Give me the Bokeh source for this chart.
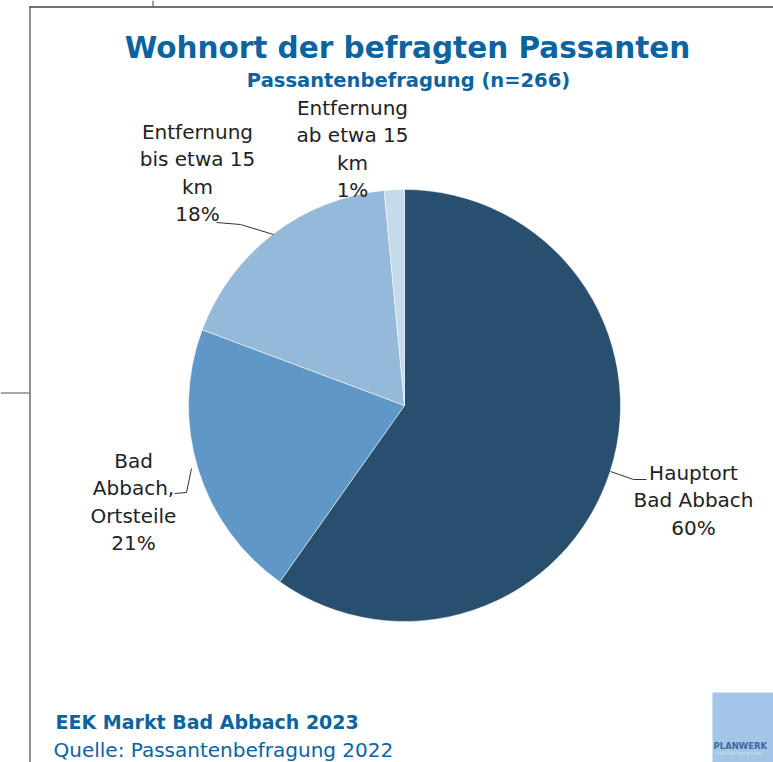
import math
from bokeh.plotting import figure
from bokeh.models import Range1d, ColumnDataSource
from bokeh.core.properties import value
from bokeh.embed import file_html
from bokeh.resources import INLINE

# ---- data ----
categories = ["Hauptort Bad Abbach", "Bad Abbach, Ortsteile", "Entfernung bis etwa 15 km", "Entfernung ab etwa 15 km"]
shares = [59.8, 20.9, 17.8, 1.5]
pct_labels = ["60%", "21%", "18%", "1%"]
label_lines = [
    ["Hauptort", "Bad Abbach", "60%"],
    ["Bad", "Abbach,", "Ortsteile", "21%"],
    ["Entfernung", "bis etwa 15", "km", "18%"],
    ["Entfernung", "ab etwa 15", "km", "1%"],
]
colors = ["#284f6e", "#5f97c6", "#94b9d9", "#c5dbec"]

title = "Wohnort der befragten Passanten"
subtitle = "Passantenbefragung (n=266)"
footer1 = "EEK Markt Bad Abbach 2023"
footer2 = "Quelle: Passantenbefragung 2022"

W, H = 773, 762
p = figure(width=W, height=H, output_backend="svg", toolbar_location=None,
           x_range=Range1d(0, W), y_range=Range1d(-H, 0),
           min_border=0)
p.axis.visible = False
p.grid.visible = False
p.outline_line_color = None
p.background_fill_color = "white"
p.border_fill_color = "white"

def Y(y):
    return -y

# frame lines
p.line([29.5, 29.5], [Y(6), Y(762)], line_color="#444444", line_width=1.2)
p.line([29, 773], [Y(6.5), Y(6.5)], line_color="#444444", line_width=1.5)
p.line([152.5, 152.5], [Y(0), Y(6)], line_color="#444444", line_width=1)
p.line([0, 29], [Y(392.5), Y(392.5)], line_color="#555555", line_width=1)

# pie
cx, cy, r = 404, 405, 216
total = sum(shares)
starts, ends = [], []
cum = 0.0
for s in shares:
    a0 = math.pi / 2 - cum / total * 2 * math.pi
    cum += s
    a1 = math.pi / 2 - cum / total * 2 * math.pi
    starts.append(a0)
    ends.append(a1)
src = ColumnDataSource(dict(x=[cx] * 4, y=[Y(cy)] * 4, start=starts, end=ends, color=colors, cat=categories))
p.wedge(x="x", y="y", radius=r, start_angle="start", end_angle="end", direction="clock",
        fill_color="color", line_color="white", line_width=0.5, source=src)

# leader lines
p.line([610, 633, 646], [Y(471), Y(479), Y(479)], line_color="#333333", line_width=1)
p.line([174, 186, 191], [Y(493), Y(492), Y(468)], line_color="#333333", line_width=1)
p.line([216, 240, 273], [Y(222), Y(224), Y(234)], line_color="#333333", line_width=1)

# labels
label_pos = [(693, 472), (133, 460), (197, 131), (352, 107)]
step = 27.5
for (lx, ly), lines in zip(label_pos, label_lines):
    xs = [lx] * len(lines)
    ys = [Y(ly + i * step) for i in range(len(lines))]
    p.text(x=xs, y=ys, text=lines, text_font=value("DejaVu Sans"), text_font_size="20px",
           text_color="#222222", text_align="center", text_baseline="middle")

# title
p.text(x=[407], y=[Y(47)], text=[title], text_font=value("DejaVu Sans"), text_font_style="bold",
       text_font_size="29.5px", text_color="#0b64a0", text_align="center", text_baseline="middle")
p.text(x=[408], y=[Y(80)], text=[subtitle], text_font=value("DejaVu Sans"), text_font_style="bold",
       text_font_size="19.5px", text_color="#0b64a0", text_align="center", text_baseline="middle")

# footer
p.text(x=[55], y=[Y(721)], text=[footer1], text_font=value("DejaVu Sans"), text_font_style="bold",
       text_font_size="19px", text_color="#0b64a0", text_align="left", text_baseline="middle")
p.text(x=[53], y=[Y(749)], text=[footer2], text_font=value("DejaVu Sans"),
       text_font_size="20px", text_color="#0b64a0", text_align="left", text_baseline="middle")

# logo
p.quad(left=[712], right=[773], top=[Y(692)], bottom=[Y(762)], fill_color="#a3c5e6", line_color=None)
p.text(x=[713], y=[Y(745)], text=["PLANWERK"], text_font=value("DejaVu Sans"), text_font_style="bold",
       text_font_size="8.5px", text_color="#3c6aa0", text_align="left", text_baseline="middle")
p.text(x=[714], y=[Y(753)], text=["STADTENTWICKLUNG"], text_font=value("DejaVu Sans"),
       text_font_size="4.5px", text_color="#d6e6f4", text_align="left", text_baseline="middle")

open("out.html", "w").write(file_html(p, INLINE))
